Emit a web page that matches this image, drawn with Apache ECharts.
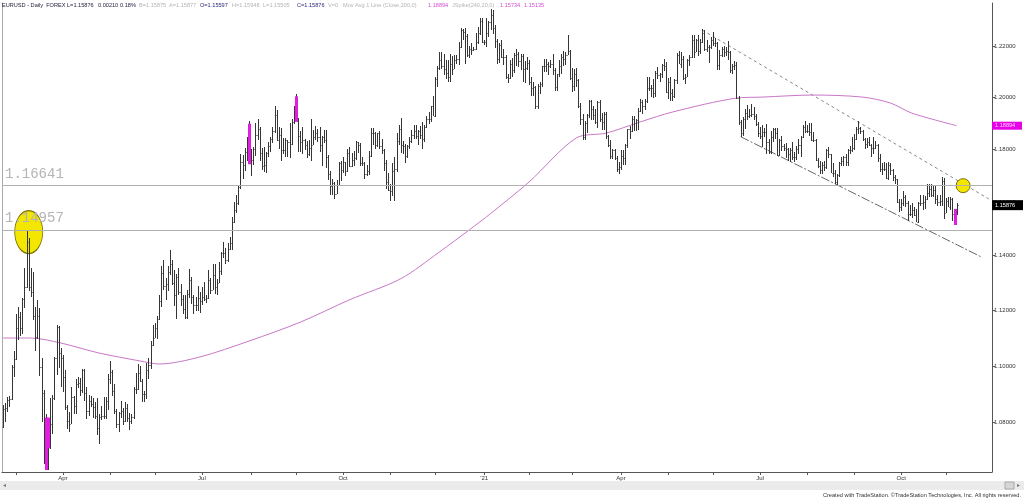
<!DOCTYPE html>
<html><head><meta charset="utf-8">
<script src="https://cdn.jsdelivr.net/npm/echarts@6/dist/echarts.min.js"></script>
<style>html,body{margin:0;padding:0;background:#fff;}#c{width:1024px;height:499px;}</style>
</head><body><div id="c"></div>
<script>
// ---------- DATA ----------
const startDate = '2020-02-21';
const endDate = '2021-11-30';
const opens = [
1.0785,1.0848,1.0853,1.0880,1.0882,1.0996,1.1026,1.1137,1.1175,1.1135,
1.1240,1.1285,1.1450,1.1285,1.1268,1.1180,1.1105,1.1180,1.0995,1.0905,
1.0690,1.0695,1.0720,1.0795,1.0885,1.1030,1.1140,1.1045,1.1030,1.0960,
1.0855,1.0805,1.0795,1.0890,1.0860,1.0935,1.0940,1.0915,1.0985,1.0905,
1.0840,1.0875,1.0865,1.0855,1.0825,1.0780,1.0820,1.0825,1.0825,1.0875,
1.0955,1.0980,1.0910,1.0840,1.0795,1.0835,1.0840,1.0805,1.0850,1.0815,
1.0805,1.0820,1.0920,1.0920,1.0975,1.0945,1.0900,1.0900,1.0985,1.1005,
1.1075,1.1100,1.1135,1.1170,1.1235,1.1335,1.1290,1.1295,1.1340,1.1370,
1.1300,1.1255,1.1320,1.1265,1.1240,1.1205,1.1175,1.1260,1.1310,1.1250,
1.1220,1.1220,1.1245,1.1235,1.1250,1.1240,1.1245,1.1310,1.1275,1.1330,
1.1285,1.1300,1.1345,1.1410,1.1410,1.1385,1.1425,1.1445,1.1525,1.1570,
1.1595,1.1655,1.1750,1.1740,1.1790,1.1845,1.1775,1.1760,1.1800,1.1855,
1.1875,1.1785,1.1735,1.1740,1.1785,1.1810,1.1840,1.1870,1.1930,1.1835,
1.1855,1.1795,1.1795,1.1835,1.1825,1.1820,1.1905,1.1935,1.1915,1.1850,
1.1825,1.1835,1.1815,1.1780,1.1805,1.1815,1.1845,1.1860,1.1845,1.1815,
1.1845,1.1835,1.1770,1.1705,1.1660,1.1670,1.1630,1.1665,1.1745,1.1720,
1.1750,1.1715,1.1785,1.1735,1.1760,1.1765,1.1825,1.1815,1.1745,1.1745,
1.1705,1.1715,1.1775,1.1860,1.1860,1.1815,1.1860,1.1810,1.1795,1.1745,
1.1675,1.1645,1.1640,1.1715,1.1725,1.1830,1.1875,1.1815,1.1810,1.1775,
1.1810,1.1830,1.1855,1.1870,1.1850,1.1870,1.1855,1.1840,1.1885,1.1915,
1.1915,1.1965,1.1925,1.2070,1.2115,1.2145,1.2120,1.2110,1.2095,1.2080,
1.2130,1.2110,1.2145,1.2150,1.2195,1.2265,1.2255,1.2240,1.2165,1.2190,
1.2185,1.2188,1.2215,1.2250,1.2300,1.2215,1.2215,1.2250,1.2295,1.2325,
1.2270,1.2220,1.2150,1.2205,1.2155,1.2155,1.2080,1.2075,1.2130,1.2105,
1.2165,1.2170,1.2140,1.2160,1.2110,1.2115,1.2135,1.2060,1.2035,1.2040,
1.1965,1.2045,1.2050,1.2120,1.2120,1.2130,1.2120,1.2130,1.2105,1.2040,
1.2090,1.2120,1.2155,1.2150,1.2165,1.2180,1.2075,1.2045,1.2090,1.2065,
1.1965,1.1915,1.1845,1.1900,1.1930,1.1985,1.1955,1.1930,1.1905,1.1980,
1.1915,1.1905,1.1935,1.1850,1.1815,1.1775,1.1795,1.1765,1.1725,1.1730,
1.1775,1.1765,1.1815,1.1875,1.1870,1.1915,1.1900,1.1910,1.1945,1.1980,
1.1965,1.1985,1.2035,1.2035,1.2035,1.2015,1.2095,1.2085,1.2090,1.2125,
1.2120,1.2020,1.2060,1.2015,1.2005,1.2065,1.2165,1.2130,1.2150,1.2075,
1.2080,1.2145,1.2155,1.2225,1.2175,1.2225,1.2180,1.2215,1.2250,1.2190,
1.2195,1.2195,1.2225,1.2210,1.2210,1.2125,1.2165,1.2190,1.2175,1.2180,
1.2175,1.2105,1.2120,1.2125,1.1995,1.1905,1.1860,1.1915,1.1940,1.1925,
1.1930,1.1935,1.1925,1.1895,1.1860,1.1850,1.1865,1.1865,1.1825,1.1790,
1.1845,1.1875,1.1860,1.1775,1.1835,1.1810,1.1805,1.1800,1.1780,1.1795,
1.1770,1.1770,1.1800,1.1815,1.1845,1.1885,1.1870,1.1870,1.1865,1.1835,
1.1835,1.1760,1.1735,1.1720,1.1740,1.1730,1.1795,1.1780,1.1710,1.1710,
1.1675,1.1700,1.1745,1.1755,1.1770,1.1750,1.1795,1.1795,1.1805,1.1840,
1.1875,1.1880,1.1870,1.1840,1.1820,1.1825,1.1815,1.1805,1.1805,1.1815,
1.1765,1.1725,1.1725,1.1725,1.1690,1.1740,1.1720,1.1695,1.1685,1.1600,
1.1580,1.1595,1.1620,1.1595,1.1555,1.1555,1.1570,1.1550,1.1525,1.1595,
1.1595,1.1600,1.1610,1.1635,1.1650,1.1625,1.1645,1.1610,1.1600,1.1605,
1.1680,1.1560,1.1605,1.1580,1.1610,1.1555,1.15597];
const highs = [
1.0863,1.0870,1.0890,1.0895,1.1004,1.1055,1.1185,1.1213,1.1193,1.1245,
1.1354,1.1496,1.1465,1.1355,1.1338,1.1212,1.1237,1.1207,1.1029,1.0915,
1.0830,1.0771,1.0886,1.0897,1.1032,1.1147,1.1144,1.1063,1.1040,1.0987,
1.0862,1.0838,1.0926,1.0893,1.0952,1.0960,1.0957,1.0990,1.0991,1.0925,
1.0897,1.0895,1.0888,1.0871,1.0888,1.0829,1.0857,1.0890,1.0889,1.0973,
1.1019,1.0985,1.0937,1.0849,1.0838,1.0875,1.0852,1.0873,1.0865,1.0835,
1.0832,1.0926,1.0975,1.1008,1.1001,1.0952,1.0913,1.1010,1.1030,1.1091,
1.1147,1.1153,1.1180,1.1257,1.1361,1.1384,1.1318,1.1362,1.1422,1.1384,
1.1346,1.1331,1.1353,1.1296,1.1255,1.1257,1.1272,1.1349,1.1322,1.1255,
1.1249,1.1288,1.1265,1.1285,1.1303,1.1255,1.1346,1.1319,1.1370,1.1370,
1.1313,1.1375,1.1414,1.1452,1.1429,1.1445,1.1469,1.1545,1.1601,1.1626,
1.1660,1.1781,1.1777,1.1805,1.1847,1.1908,1.1800,1.1806,1.1900,1.1916,
1.1885,1.1805,1.1806,1.1790,1.1827,1.1847,1.1883,1.1966,1.1951,1.1883,
1.1882,1.1844,1.1844,1.1836,1.1900,1.1914,1.1966,1.2011,1.1920,1.1870,
1.1884,1.1837,1.1830,1.1836,1.1917,1.1871,1.1887,1.1875,1.1883,1.1850,
1.1872,1.1873,1.1777,1.1718,1.1688,1.1673,1.1683,1.1750,1.1754,1.1770,
1.1752,1.1799,1.1806,1.1784,1.1792,1.1831,1.1827,1.1822,1.1771,1.1749,
1.1740,1.1794,1.1880,1.1881,1.1865,1.1860,1.1870,1.1838,1.1799,1.1760,
1.1707,1.1669,1.1745,1.1769,1.1861,1.1891,1.1920,1.1830,1.1818,1.1815,
1.1845,1.1874,1.1894,1.1892,1.1874,1.1889,1.1905,1.1893,1.1925,1.1942,
1.1965,1.2003,1.2077,1.2122,1.2176,1.2177,1.2167,1.2144,1.2146,1.2167,
1.2162,1.2163,1.2165,1.2214,1.2273,1.2268,1.2271,1.2249,1.2200,1.2211,
1.2195,1.2250,1.2276,1.2310,1.2310,1.2225,1.2310,1.2300,1.2349,1.2345,
1.2283,1.2229,1.2213,1.2223,1.2187,1.2166,1.2090,1.2145,1.2154,1.2172,
1.2189,1.2177,1.2168,1.2169,1.2140,1.2155,1.2146,1.2078,1.2058,1.2043,
1.2050,1.2060,1.2123,1.2150,1.2150,1.2136,1.2145,1.2169,1.2114,1.2091,
1.2145,1.2169,1.2180,1.2175,1.2243,1.2183,1.2113,1.2108,1.2113,1.2071,
1.1977,1.1935,1.1908,1.1935,1.1990,1.1990,1.1965,1.1952,1.1985,1.1990,
1.1940,1.1944,1.1942,1.1853,1.1833,1.1799,1.1799,1.1774,1.1749,1.1795,
1.1795,1.1820,1.1877,1.1888,1.1928,1.1927,1.1915,1.1958,1.1994,1.1990,
1.1994,1.2079,1.2080,1.2048,1.2071,1.2100,1.2117,1.2095,1.2130,1.2150,
1.2136,1.2076,1.2078,1.2030,1.2071,1.2173,1.2181,1.2176,1.2160,1.2090,
1.2150,1.2163,1.2245,1.2244,1.2229,1.2243,1.2227,1.2266,1.2262,1.2225,
1.2205,1.2236,1.2254,1.2230,1.2215,1.2185,1.2196,1.2200,1.2195,1.2218,
1.2181,1.2130,1.2142,1.2137,1.2005,1.1911,1.1923,1.1954,1.1970,1.1955,
1.1975,1.1960,1.1935,1.1905,1.1886,1.1894,1.1881,1.1895,1.1840,1.1868,
1.1880,1.1880,1.1880,1.1838,1.1849,1.1821,1.1823,1.1805,1.1805,1.1828,
1.1790,1.1810,1.1840,1.1850,1.1892,1.1909,1.1892,1.1899,1.1900,1.1865,
1.1839,1.1765,1.1753,1.1749,1.1754,1.1799,1.1806,1.1782,1.1748,1.1720,
1.1705,1.1752,1.1770,1.1775,1.1780,1.1800,1.1810,1.1846,1.1857,1.1884,
1.1909,1.1885,1.1873,1.1844,1.1844,1.1846,1.1818,1.1846,1.1830,1.1820,
1.1780,1.1747,1.1750,1.1746,1.1752,1.1745,1.1723,1.1701,1.1688,1.1610,
1.1612,1.1640,1.1625,1.1603,1.1587,1.1595,1.1581,1.1573,1.1600,1.1624,
1.1624,1.1623,1.1669,1.1668,1.1667,1.1665,1.1665,1.1625,1.1625,1.1692,
1.1690,1.1616,1.1617,1.1617,1.1616,1.1573,1.15948];
const lows = [
1.0780,1.0802,1.0836,1.0856,1.0878,1.0962,1.1020,1.1093,1.1106,1.1115,
1.1209,1.1280,1.1270,1.1250,1.1164,1.1054,1.1096,1.0964,1.0803,1.0655,
1.0636,1.0637,1.0708,1.0762,1.0880,1.0967,1.0993,1.0927,1.0906,1.0846,
1.0778,1.0768,1.0795,1.0829,1.0831,1.0922,1.0895,1.0904,1.0877,1.0813,
1.0825,1.0854,1.0816,1.0814,1.0757,1.0727,1.0811,1.0812,1.0814,1.0846,
1.0935,1.0892,1.0829,1.0782,1.0767,1.0818,1.0792,1.0804,1.0804,1.0775,
1.0794,1.0812,1.0902,1.0916,1.0942,1.0871,1.0872,1.0884,1.0954,1.0988,
1.1070,1.1100,1.1096,1.1165,1.1212,1.1273,1.1237,1.1270,1.1329,1.1292,
1.1216,1.1168,1.1255,1.1215,1.1188,1.1168,1.1170,1.1246,1.1224,1.1185,
1.1197,1.1198,1.1192,1.1218,1.1232,1.1225,1.1242,1.1261,1.1273,1.1260,
1.1256,1.1300,1.1328,1.1390,1.1370,1.1376,1.1420,1.1422,1.1522,1.1560,
1.1588,1.1649,1.1688,1.1716,1.1754,1.1762,1.1696,1.1740,1.1775,1.1836,
1.1755,1.1722,1.1712,1.1710,1.1770,1.1788,1.1824,1.1863,1.1829,1.1802,
1.1753,1.1782,1.1771,1.1769,1.1765,1.1816,1.1895,1.1910,1.1788,1.1789,
1.1780,1.1797,1.1765,1.1773,1.1753,1.1815,1.1834,1.1825,1.1788,1.1737,
1.1824,1.1728,1.1684,1.1627,1.1625,1.1612,1.1628,1.1662,1.1680,1.1710,
1.1696,1.1713,1.1733,1.1730,1.1736,1.1758,1.1783,1.1736,1.1735,1.1688,
1.1698,1.1703,1.1768,1.1814,1.1801,1.1806,1.1800,1.1780,1.1718,1.1650,
1.1640,1.1603,1.1622,1.1602,1.1711,1.1815,1.1784,1.1780,1.1745,1.1767,
1.1800,1.1822,1.1840,1.1840,1.1814,1.1838,1.1801,1.1825,1.1881,1.1895,
1.1905,1.1925,1.1923,1.2040,1.2105,1.2110,1.2087,1.2071,1.2059,1.2059,
1.2085,1.2108,1.2128,1.2126,1.2193,1.2222,1.2130,1.2156,1.2154,1.2166,
1.2180,1.2184,1.2208,1.2245,1.2211,1.2205,1.2195,1.2236,1.2265,1.2248,
1.2192,1.2131,1.2133,1.2151,1.2124,1.2071,1.2054,1.2071,1.2080,1.2093,
1.2121,1.2116,1.2107,1.2059,1.2055,1.2105,1.2047,1.2006,1.2003,1.1953,
1.1952,1.2011,1.2039,1.2096,1.2096,1.2087,1.2112,1.2087,1.2023,1.2023,
1.2079,1.2091,1.2123,1.2126,1.2165,1.2067,1.2021,1.2025,1.2040,1.1958,
1.1893,1.1836,1.1835,1.1863,1.1920,1.1910,1.1910,1.1896,1.1882,1.1904,
1.1873,1.1873,1.1840,1.1808,1.1762,1.1762,1.1760,1.1712,1.1704,1.1719,
1.1740,1.1738,1.1803,1.1838,1.1864,1.1870,1.1868,1.1872,1.1943,1.1936,
1.1950,1.1978,1.2023,1.2000,1.1995,1.2002,1.2070,1.2057,1.2073,1.2102,
1.2015,1.1993,1.1986,1.1985,1.1996,1.2050,1.2128,1.2115,1.2068,1.2051,
1.2078,1.2123,1.2151,1.2152,1.2175,1.2160,1.2169,1.2211,1.2180,1.2175,
1.2133,1.2188,1.2200,1.2196,1.2104,1.2104,1.2156,1.2157,1.2160,1.2145,
1.2092,1.2091,1.2107,1.1994,1.1892,1.1847,1.1849,1.1878,1.1912,1.1918,
1.1922,1.1911,1.1887,1.1846,1.1838,1.1807,1.1845,1.1782,1.1782,1.1781,
1.1827,1.1837,1.1772,1.1772,1.1794,1.1793,1.1764,1.1755,1.1752,1.1757,
1.1752,1.1760,1.1780,1.1770,1.1842,1.1860,1.1860,1.1851,1.1832,1.1826,
1.1753,1.1727,1.1706,1.1706,1.1718,1.1725,1.1766,1.1708,1.1695,1.1666,
1.1664,1.1694,1.1735,1.1734,1.1736,1.1735,1.1780,1.1789,1.1797,1.1834,
1.1857,1.1859,1.1830,1.1802,1.1805,1.1811,1.1770,1.1781,1.1800,1.1751,
1.1713,1.1702,1.1715,1.1685,1.1684,1.1700,1.1680,1.1668,1.1596,1.1563,
1.1564,1.1583,1.1580,1.1529,1.1548,1.1541,1.1546,1.1524,1.1522,1.1585,
1.1571,1.1572,1.1606,1.1618,1.1618,1.1618,1.1591,1.1586,1.1585,1.1585,
1.1535,1.1558,1.1580,1.1570,1.1528,1.1513,1.15505];
const closes = [
1.0848,1.0853,1.0880,1.0882,1.0996,1.1026,1.1137,1.1175,1.1135,1.1240,
1.1285,1.1450,1.1285,1.1268,1.1180,1.1105,1.1180,1.0995,1.0905,1.0690,
1.0695,1.0720,1.0795,1.0885,1.1030,1.1140,1.1045,1.1030,1.0960,1.0855,
1.0805,1.0795,1.0890,1.0860,1.0935,1.0940,1.0915,1.0985,1.0905,1.0840,
1.0875,1.0865,1.0855,1.0825,1.0780,1.0820,1.0825,1.0825,1.0875,1.0955,
1.0980,1.0910,1.0840,1.0795,1.0835,1.0840,1.0805,1.0850,1.0815,1.0805,
1.0820,1.0920,1.0920,1.0975,1.0945,1.0900,1.0900,1.0985,1.1005,1.1075,
1.1100,1.1135,1.1170,1.1235,1.1335,1.1290,1.1295,1.1340,1.1370,1.1300,
1.1255,1.1320,1.1265,1.1240,1.1205,1.1175,1.1260,1.1310,1.1250,1.1220,
1.1220,1.1245,1.1235,1.1250,1.1240,1.1245,1.1310,1.1275,1.1330,1.1285,
1.1300,1.1345,1.1410,1.1410,1.1385,1.1425,1.1445,1.1525,1.1570,1.1595,
1.1655,1.1750,1.1740,1.1790,1.1845,1.1775,1.1760,1.1800,1.1855,1.1875,
1.1785,1.1735,1.1740,1.1785,1.1810,1.1840,1.1870,1.1930,1.1835,1.1855,
1.1795,1.1795,1.1835,1.1825,1.1820,1.1905,1.1935,1.1915,1.1850,1.1825,
1.1835,1.1815,1.1780,1.1805,1.1815,1.1845,1.1860,1.1845,1.1815,1.1845,
1.1835,1.1770,1.1705,1.1660,1.1670,1.1630,1.1665,1.1745,1.1720,1.1750,
1.1715,1.1785,1.1735,1.1760,1.1765,1.1825,1.1815,1.1745,1.1745,1.1705,
1.1715,1.1775,1.1860,1.1860,1.1815,1.1860,1.1810,1.1795,1.1745,1.1675,
1.1645,1.1640,1.1715,1.1725,1.1830,1.1875,1.1815,1.1810,1.1775,1.1810,
1.1830,1.1855,1.1870,1.1850,1.1870,1.1855,1.1840,1.1885,1.1915,1.1915,
1.1965,1.1925,1.2070,1.2115,1.2145,1.2120,1.2110,1.2095,1.2080,1.2130,
1.2110,1.2145,1.2150,1.2195,1.2265,1.2255,1.2240,1.2165,1.2190,1.2185,
1.2188,1.2215,1.2250,1.2300,1.2215,1.2215,1.2250,1.2295,1.2325,1.2270,
1.2220,1.2150,1.2205,1.2155,1.2155,1.2080,1.2075,1.2130,1.2105,1.2165,
1.2170,1.2140,1.2160,1.2110,1.2115,1.2135,1.2060,1.2035,1.2040,1.1965,
1.2045,1.2050,1.2120,1.2120,1.2130,1.2120,1.2130,1.2105,1.2040,1.2090,
1.2120,1.2155,1.2150,1.2165,1.2180,1.2075,1.2045,1.2090,1.2065,1.1965,
1.1915,1.1845,1.1900,1.1930,1.1985,1.1955,1.1930,1.1905,1.1980,1.1915,
1.1905,1.1935,1.1850,1.1815,1.1775,1.1795,1.1765,1.1725,1.1730,1.1775,
1.1765,1.1815,1.1875,1.1870,1.1915,1.1900,1.1910,1.1945,1.1980,1.1965,
1.1985,1.2035,1.2035,1.2035,1.2015,1.2095,1.2085,1.2090,1.2125,1.2120,
1.2020,1.2060,1.2015,1.2005,1.2065,1.2165,1.2130,1.2150,1.2075,1.2080,
1.2145,1.2155,1.2225,1.2175,1.2225,1.2180,1.2215,1.2250,1.2190,1.2195,
1.2195,1.2225,1.2210,1.2210,1.2125,1.2165,1.2190,1.2175,1.2180,1.2175,
1.2105,1.2120,1.2125,1.1995,1.1905,1.1860,1.1915,1.1940,1.1925,1.1930,
1.1935,1.1925,1.1895,1.1860,1.1850,1.1865,1.1865,1.1825,1.1790,1.1845,
1.1875,1.1860,1.1775,1.1835,1.1810,1.1805,1.1800,1.1780,1.1795,1.1770,
1.1770,1.1800,1.1815,1.1845,1.1885,1.1870,1.1870,1.1865,1.1835,1.1835,
1.1760,1.1735,1.1720,1.1740,1.1730,1.1795,1.1780,1.1710,1.1710,1.1675,
1.1700,1.1745,1.1755,1.1770,1.1750,1.1795,1.1795,1.1805,1.1840,1.1875,
1.1880,1.1870,1.1840,1.1820,1.1825,1.1815,1.1805,1.1805,1.1815,1.1765,
1.1725,1.1725,1.1725,1.1690,1.1740,1.1720,1.1695,1.1685,1.1600,1.1580,
1.1595,1.1620,1.1595,1.1555,1.1555,1.1570,1.1550,1.1525,1.1595,1.1595,
1.1600,1.1610,1.1635,1.1650,1.1625,1.1645,1.1610,1.1600,1.1605,1.1680,
1.1560,1.1605,1.1580,1.1610,1.1555,1.1567,1.15876];

// 200-day moving average, read at sample bars (bar index, value)
const maDays   = [0, 13, 27, 45, 64, 73, 92, 115, 139, 162, 186, 204, 218, 228, 246, 268, 282, 298, 313, 343, 355, 379, 402, 415, 425, 446];
const maValues = [1.1100,1.1100,1.1082,1.1046,1.1018,1.1007,1.1032,1.1089,1.1157,1.1238,1.1315,1.1413,1.1495,1.1556,1.1675,1.1842,1.1861,1.1904,1.1942,1.1996,1.2000,1.2008,1.2000,1.1977,1.1938,1.18894];

// JSpike marks (bar index, low, high)
const spikeDays  = [20, 21, 115, 137, 445];
const spikeLows  = [1.0636, 1.0711, 1.1742, 1.1904, 1.15135];
const spikeHighs = [1.0818, 1.0818, 1.1897, 1.2003, 1.15734];

// horizontal levels
const levels = [1.16641, 1.14957];

// trendlines (bar index, price)
const upperTrendDays = [327, 461];
const upperTrendPrices = [1.2263, 1.1611];
const lowerTrendDays = [345, 458];
const lowerTrendPrices = [1.1847, 1.1393];

// highlight circles (bar index, price)
const circleDays = [12, 449];
const circlePrices = [1.1487, 1.1661];

// axis
const yTicks = [1.08, 1.10, 1.12, 1.14, 1.16, 1.18, 1.20, 1.22];
const monthNames = ['Jan','Feb','Mar','Apr','May','Jun','Jul','Aug','Sep','Oct','Nov','Dec'];
const labelMonths = [0, 3, 6, 9];
const lastPrice = 1.15876;
const lastMA = 1.18894;

const headerItems = [
  ['EURUSD - Daily  FOREX', 2, '#1c1c3c'],
  ['L=1.15876', 67, '#1c1c3c'],
  ['0.00210', 98, '#1c1c3c'],
  ['0.18%', 120, '#1c1c3c'],
  ['B=1.15875', 139, '#b4b4b4'],
  ['A=1.15877', 169, '#b4b4b4'],
  ['O=1.15597', 200, '#2a2a7a'],
  ['H=1.15948', 232, '#b4b4b4'],
  ['L=1.15505', 263, '#b4b4b4'],
  ['C=1.15876', 297, '#2a2a7a'],
  ['V=0', 328, '#b4b4b4'],
  ['Mov Avg 1 Line (Close,200,0)', 343, '#b4b4b4'],
  ['1.18894', 428, '#d24fd2'],
  ['JSpike(240,20,0)', 452, '#b4b4b4'],
  ['1.15734', 500, '#d24fd2'],
  ['1.15135', 524, '#d24fd2']
];
const footerText = 'Created with TradeStation. \u00A9TradeStation Technologies, Inc. All rights reserved.';

// ---------- BUILD ----------
function weekdays(a, b) {
  const out = [];
  let d = new Date(a + 'T00:00:00Z');
  const e = new Date(b + 'T00:00:00Z');
  while (d <= e) {
    const w = d.getUTCDay();
    if (w !== 0 && w !== 6) out.push(d.toISOString().slice(0, 10));
    d = new Date(d.getTime() + 86400000);
  }
  return out;
}
const dates = weekdays(startDate, endDate);
const monthOf = s => parseInt(s.slice(5, 7), 10) - 1;
const isMonthStart = dates.map((s, i) => i > 0 && monthOf(s) !== monthOf(dates[i - 1]));
const isLabel = dates.map((s, i) => isMonthStart[i] && labelMonths.indexOf(monthOf(s)) >= 0);

const bars = closes.map((c, i) => [i, opens[i], highs[i], lows[i], c]);
const spikes = spikeDays.map((d, k) => [d, spikeLows[k], spikeHighs[k]]);
const ma = maDays.map((d, k) => [d, maValues[k]]);

const chart = echarts.init(document.getElementById('c'), null, { renderer: 'canvas' });
const FONT = 'Liberation Sans, Arial, sans-serif';

chart.setOption({
  animation: false,
  backgroundColor: '#ffffff',
  grid: { left: 2, right: 32, top: 3, bottom: 27, containLabel: false, outerBoundsMode: 'none' },
  xAxis: {
    type: 'category', data: dates, boundaryGap: true,
    axisLine: { show: true, lineStyle: { color: '#555', width: 1 } },
    axisTick: { show: true, alignWithLabel: true, length: 3, interval: (i) => isMonthStart[i], lineStyle: { color: '#555' } },
    axisLabel: {
      interval: (i) => isLabel[i], fontSize: 6, color: '#333', margin: 3, fontFamily: FONT,
      formatter: (v) => { const m = monthOf(v); return m === 0 ? "'" + v.slice(2, 4) : monthNames[m]; }
    },
    splitLine: { show: false }
  },
  yAxis: [{
    type: 'log', logBase: 10, position: 'right', min: 1.0629, max: 1.2371, scale: true,
    axisLine: { show: true, onZero: false, lineStyle: { color: '#555', width: 1 } },
    axisTick: { show: true, length: 3, customValues: yTicks, lineStyle: { color: '#555' } },
    axisLabel: { customValues: yTicks, formatter: (v) => Number(v).toFixed(5), fontSize: 6, color: '#333', margin: 2, fontFamily: FONT },
    splitLine: { show: false }
  }, {
    type: 'log', logBase: 10, position: 'left', min: 1.0629, max: 1.2371,
    axisLine: { show: true, onZero: false, lineStyle: { color: '#aaa', width: 1 } },
    axisTick: { show: false }, axisLabel: { show: false }, splitLine: { show: false }
  }],
  series: [
    {
      name: 'upperTrend', type: 'line', z: 1, silent: true, symbol: 'none',
      data: upperTrendDays.map((d, k) => [d, upperTrendPrices[k]]),
      lineStyle: { color: '#888', width: 1, type: [3, 3] },
      markLine: {
        silent: true, symbol: ['none', 'none'], precision: 5,
        lineStyle: { color: '#b0b0b0', width: 1, type: 'solid' },
        label: { show: true, position: 'insideStartTop', distance: [3, 4], formatter: (p) => Number(p.value).toFixed(5),
          fontFamily: 'Liberation Mono, Courier New, monospace', fontSize: 14, color: '#b4b4b4' },
        data: levels.map(v => ({ yAxis: v }))
      }
    },
    {
      name: 'lowerTrend', type: 'line', z: 1, silent: true, symbol: 'none',
      data: lowerTrendDays.map((d, k) => [d, lowerTrendPrices[k]]),
      lineStyle: { color: '#666', width: 1, type: [9, 2, 2, 2] }
    },
    {
      name: 'circles', type: 'scatter', z: 2, silent: true, symbol: 'circle',
      data: circleDays.map((d, k) => ({ value: [d, circlePrices[k]], symbolSize: k === 0 ? [28, 43] : 14 })),
      itemStyle: { color: '#f3e600', borderColor: '#7a7200', borderWidth: 1, opacity: 1 }
    },
    {
      name: 'MA200', type: 'line', z: 3, silent: true, symbol: 'none', smooth: 0.3,
      data: ma, lineStyle: { color: '#c877c8', width: 1 }
    },
    {
      name: 'EURUSD', type: 'custom', z: 4, silent: true,
      encode: { x: 0, y: [1, 2, 3, 4] },
      data: bars,
      renderItem: function (params, api) {
        const i = api.value(0);
        const pH = api.coord([i, api.value(2)]);
        const pL = api.coord([i, api.value(3)]);
        const pO = api.coord([i, api.value(1)]);
        const pC = api.coord([i, api.value(4)]);
        const x = Math.round(pH[0]);
        const yh = Math.round(pH[1]), yl = Math.round(pL[1]);
        return { type: 'group', children: [
          { type: 'rect', shape: { x: x, y: yh, width: 1, height: Math.max(1, yl - yh) }, style: { fill: '#353535' } },
          { type: 'rect', shape: { x: x - 1, y: Math.round(pO[1]), width: 1, height: 1 }, style: { fill: '#8e8e8e' } },
          { type: 'rect', shape: { x: x + 1, y: Math.round(pC[1]), width: 1, height: 1 }, style: { fill: '#8e8e8e' } }
        ] };
      }
    },
    {
      name: 'JSpike', type: 'custom', z: 5, silent: true,
      encode: { x: 0, y: [1, 2] },
      data: spikes,
      renderItem: function (params, api) {
        const i = api.value(0);
        const pLo = api.coord([i, api.value(1)]);
        const pHi = api.coord([i, api.value(2)]);
        const x = Math.round(pLo[0]);
        return { type: 'rect', shape: { x: x - 1, y: pHi[1], width: 3, height: pLo[1] - pHi[1] }, style: { fill: '#e01de0' } };
      }
    }
  ]
});

// value tags on the price axis, placed through the axis scale
const yLast = chart.convertToPixel({ yAxisIndex: 0 }, lastPrice);
const yMA = chart.convertToPixel({ yAxisIndex: 0 }, lastMA);
const g = [];
headerItems.forEach((h, k) => g.push({
  type: 'text', z: 100, left: h[1], top: 2,
  style: { text: h[0], fill: h[2], font: '5.6px ' + FONT }
}));
g.push({ type: 'rect', z: 100, shape: { x: 992, y: yMA - 4, width: 30, height: 8 }, style: { fill: '#e600e6' } });
g.push({ type: 'text', z: 101, x: 995, y: yMA, style: { text: lastMA.toFixed(5), fill: '#ffd0ff', font: '5.6px ' + FONT, verticalAlign: 'middle' } });
g.push({ type: 'rect', z: 100, shape: { x: 992, y: yLast - 5, width: 31, height: 10 }, style: { fill: '#000' } });
g.push({ type: 'text', z: 101, x: 995, y: yLast, style: { text: lastPrice.toFixed(5), fill: '#fff', font: '5.6px ' + FONT, verticalAlign: 'middle' } });
// scrollbar + footer
g.push({ type: 'rect', z: 90, shape: { x: 0, y: 481, width: 1024, height: 9 }, style: { fill: '#ebebeb' } });
g.push({ type: 'text', z: 91, x: 3, y: 485.5, style: { text: '\u25C2', fill: '#777', font: '6px ' + FONT, verticalAlign: 'middle' } });
g.push({ type: 'rect', z: 91, shape: { x: 1005, y: 482, width: 9, height: 7 }, style: { fill: '#d6d6d6', stroke: '#aaa', lineWidth: 1 } });
g.push({ type: 'text', z: 91, x: 1017, y: 485.5, style: { text: '\u25B8', fill: '#777', font: '6px ' + FONT, verticalAlign: 'middle' } });
g.push({ type: 'text', z: 91, x: 1021, y: 495, style: { text: footerText, fill: '#333', font: '5.6px ' + FONT, align: 'right', verticalAlign: 'middle' } });
chart.setOption({ graphic: g });
</script></body></html>
